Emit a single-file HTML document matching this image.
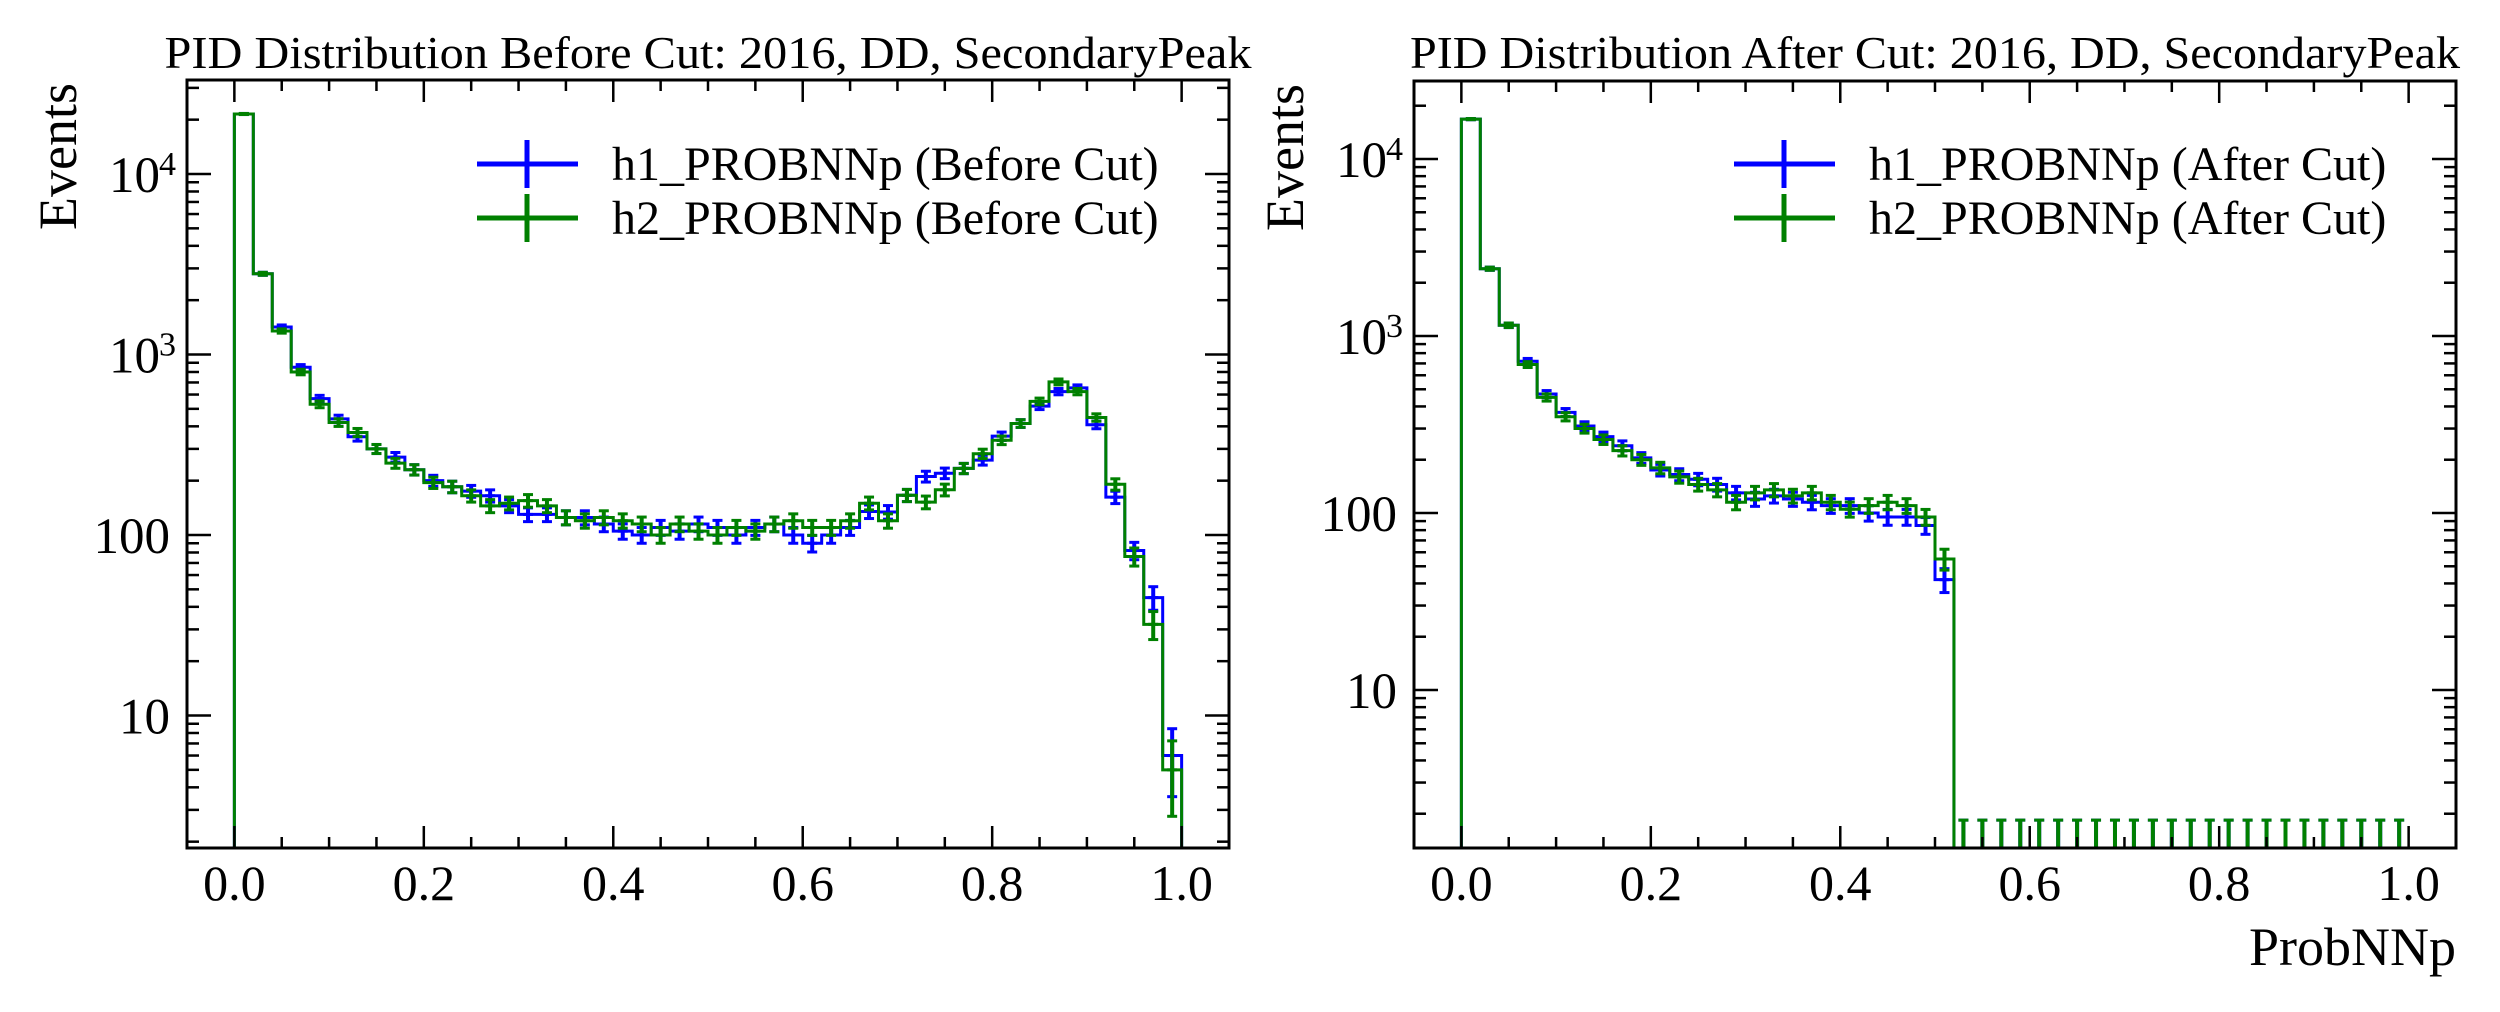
<!DOCTYPE html>
<html><head><meta charset="utf-8"><style>
html,body{margin:0;padding:0;background:#fff;}
svg{display:block;font-family:"Liberation Serif",serif;}
</style></head><body>
<svg id="fig" width="2500" height="1012" viewBox="0 0 2500 1012" xmlns="http://www.w3.org/2000/svg">
<rect width="2500" height="1012" fill="#fff"/>
</svg>
<script>
const binEdgesStart = 0, binWidth = 0.02;
const before_h1 = [21500,2800,1420,850,570,440,350,300,270,230,200,185,175,165,145,130,130,125,125,115,105,100,110,105,115,110,100,110,115,100,90,100,110,135,134,166,211,220,234,260,353,415,518,623,653,408,162,82,45,6];
const before_h2 = [21500,2800,1350,800,530,420,370,300,250,230,195,185,165,145,150,155,145,125,120,125,120,115,100,115,105,100,110,105,115,120,110,110,120,150,120,166,152,178,234,282,335,415,550,705,623,448,191,76,32,5];
const after_h1 = [16800,2400,1150,720,470,370,310,270,240,205,175,165,155,145,130,120,125,120,115,110,110,100,95,95,85,42,0,0,0,0,0,0,0,0,0,0,0,0,0,0,0,0,0,0,0,0,0,0,0,0];
const after_h2 = [16800,2400,1150,690,450,350,300,260,225,200,180,160,145,135,115,130,135,125,130,115,105,110,115,110,95,55,0,0,0,0,0,0,0,0,0,0,0,0,0,0,0,0,0,0,0,0,0,0,0,0];
const xTicks = [0.0,0.2,0.4,0.6,0.8,1.0];
const xTickLabels = ["0.0","0.2","0.4","0.6","0.8","1.0"];
const zeroErr = 1.84;

const NS="http://www.w3.org/2000/svg";
const svg=document.getElementById('fig');
function mk(tag,attrs,parent){const e=document.createElementNS(NS,tag);for(const k in attrs)e.setAttribute(k,attrs[k]);(parent||svg).appendChild(e);return e;}

function panel(cfg){
  const g=mk('g',{});
  
  
  const L=cfg.left,R=cfg.left+1042,T=cfg.top,B=848;
  const xs=v=>L+(v+0.05)/1.1*(R-L);
  const ys=v=>cfg.y4-(Math.log10(v)-4)*cfg.dec;
  const cid='clip'+cfg.name;
  const defs=mk('defs',{},g);const cp=mk('clipPath',{id:cid},defs);mk('rect',{x:L,y:T,width:R-L,height:B-T},cp);
  const plot=mk('g',{'clip-path':'url(#'+cid+')'},g);
  const series=[[cfg.h1,'#0000ff','h1'],[cfg.h2,'#008000','h2']];
  series.forEach(([d,col,nm])=>{
    const sg=mk('g',{},plot);
    
    
    let p='M'+xs(0)+','+(B+50);
    d.forEach((v,i)=>{const y=v>0?ys(v):B+50;p+=' L'+xs(i*binWidth)+','+y+' L'+xs((i+1)*binWidth)+','+y;});
    p+=' L'+xs(1)+','+(B+50);
    const st=mk('path',{d:p,fill:'none',stroke:col,'stroke-width':3},sg);
    
    
    d.forEach((v,i)=>{
      const cx=xs((i+0.5)*binWidth);
      let lo,hi;
      if(v>0){const e=Math.sqrt(v);lo=v-e>0?ys(v-e):B+10;hi=ys(v+e);}
      else{lo=B+10;hi=ys(zeroErr);}
      const eb=mk('g',{},sg);
      
      
      mk('line',{x1:cx,x2:cx,y1:lo,y2:hi,stroke:col,'stroke-width':4},eb);
      mk('line',{x1:cx-5,x2:cx+5,y1:hi,y2:hi,stroke:col,'stroke-width':3},eb);
      if(v>0)mk('line',{x1:cx-5,x2:cx+5,y1:lo,y2:lo,stroke:col,'stroke-width':3},eb);
      if(v>0)mk('line',{x1:cx-5,x2:cx+5,y1:ys(v),y2:ys(v),stroke:col,'stroke-width':3},eb);
    });
  });
  const fr=mk('rect',{x:L,y:T,width:R-L,height:B-T,fill:'none',stroke:'#000','stroke-width':3},g);
  
  
  for(let k=0;k<=20;k++){const v=k*0.05;const x=xs(v);const major=k%4===0;const len=major?22:11;
    mk('line',{x1:x,x2:x,y1:B,y2:B-len,stroke:'#000','stroke-width':2.5},g);
    mk('line',{x1:x,x2:x,y1:T,y2:T+len,stroke:'#000','stroke-width':2.5},g);}
  xTicks.forEach((v,i)=>{const t=mk('text',{x:xs(v),y:900,'font-size':50,'text-anchor':'middle'},g);t.textContent=xTickLabels[i];
    
    });
  for(let e=0;e<=4;e++){for(let m=1;m<=9;m++){const v=m*Math.pow(10,e);const y=ys(v);if(y>B||y<T)continue;const len=m===1?24:12;
    mk('line',{x1:L,x2:L+len,y1:y,y2:y,stroke:'#000','stroke-width':2.5},g);
    mk('line',{x1:R,x2:R-len,y1:y,y2:y,stroke:'#000','stroke-width':2.5},g);}}
  [[10,'10'],[100,'100']].forEach(([v,s])=>{const t=mk('text',{x:L-17,y:ys(v)+18,'font-size':51,'text-anchor':'end'},g);t.textContent=s;
    
    });
  [[1000,'3'],[10000,'4']].forEach(([v,s])=>{const t=mk('text',{x:L-27,y:ys(v)+18,'font-size':51,'text-anchor':'end'},g);t.textContent='10';
    
    
    const sp=mk('text',{x:L-28,y:ys(v)+1,'font-size':34,'text-anchor':'start'},g);sp.textContent=s;});
  const yl=mk('text',{x:0,y:0,'font-size':54,'text-anchor':'end',transform:'translate('+(cfg.left-111)+','+(T+3)+') rotate(-90)'},g);yl.textContent='Events';
  
  
  const ti=mk('text',{x:(L+R)/2,y:68,'font-size':46,'text-anchor':'middle',textLength:cfg.titleLen,lengthAdjust:'spacingAndGlyphs'},g);ti.textContent=cfg.title;
  
  
  cfg.legend.forEach((txt,i)=>{const col=i===0?'#0000ff':'#008000';const y=cfg.legY+i*54;const lx=cfg.legX;
    const le=mk('g',{},g);
    
    
    mk('line',{x1:lx,x2:lx+101,y1:y,y2:y,stroke:col,'stroke-width':5},le);
    mk('line',{x1:lx+50,x2:lx+50,y1:y-24,y2:y+24,stroke:col,'stroke-width':5},le);
    const t=mk('text',{x:lx+135,y:y+16,'font-size':48},le);t.textContent=txt;});
  if(cfg.xlabel){const xl=mk('text',{x:R,y:965,'font-size':54,'text-anchor':'end'},g);xl.textContent=cfg.xlabel;
    
    }
}
panel({name:'before-cut-panel',left:187,top:80,y4:174,dec:180.5,h1:before_h1,h2:before_h2,
  title:'PID Distribution Before Cut: 2016, DD, SecondaryPeak',titleLen:1087,
  legend:['h1_PROBNNp (Before Cut)','h2_PROBNNp (Before Cut)'],legX:477,legY:164});
panel({name:'after-cut-panel',left:1414,top:81,y4:159,dec:177,h1:after_h1,h2:after_h2,
  title:'PID Distribution After Cut: 2016, DD, SecondaryPeak',titleLen:1050,
  legend:['h1_PROBNNp (After Cut)','h2_PROBNNp (After Cut)'],legX:1734,legY:164,xlabel:'ProbNNp'});
</script>
</body></html>
